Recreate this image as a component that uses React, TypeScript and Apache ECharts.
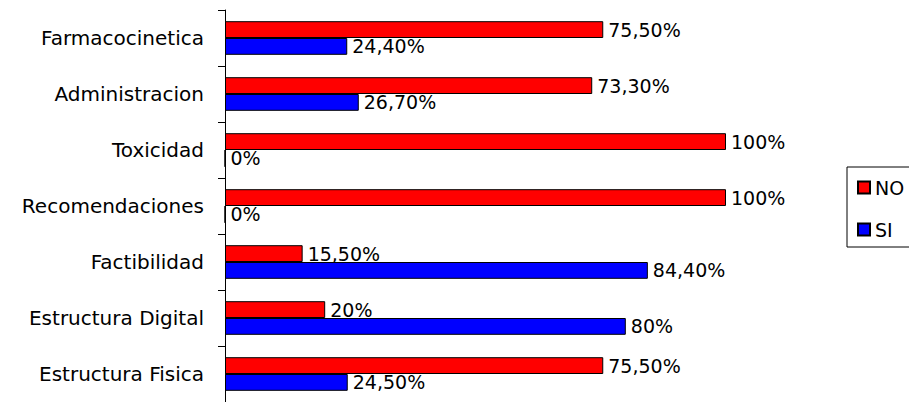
import React, { useEffect, useRef } from "react";
import * as echarts from "echarts";

const categories = [
  "Farmacocinetica",
  "Administracion",
  "Toxicidad",
  "Recomendaciones",
  "Factibilidad",
  "Estructura Digital",
  "Estructura Fisica",
];
const noValues = [75.5, 73.3, 100, 100, 15.5, 20, 75.5];
const siValues = [24.4, 26.7, 0, 0, 84.4, 80, 24.5];
const noLabels = ["75,50%", "73,30%", "100%", "100%", "15,50%", "20%", "75,50%"];
const siLabels = ["24,40%", "26,70%", "0%", "0%", "84,40%", "80%", "24,50%"];

const FONT = "DejaVu Sans";

export default function App() {
  const ref = useRef<HTMLDivElement>(null);
  useEffect(() => {
    if (!ref.current) return;
    const chart = echarts.init(ref.current, undefined, { renderer: "svg" });
    const labelStyle = {
      show: true,
      position: "right" as const,
      distance: 5,
      color: "#000",
      fontFamily: FONT,
      fontSize: 19,
    };
    chart.setOption({
      animation: false,
      backgroundColor: "#fff",
      grid: { left: 225, top: 10, width: 501, height: 394, containLabel: false },
      legend: {
        orient: "vertical",
        left: 847,
        top: 167,
        data: ["NO", "SI"],
        itemWidth: 12,
        itemHeight: 12,
        itemGap: 23,
        padding: [11, 40, 8, 10],
        borderColor: "#000",
        borderWidth: 1,
        icon: "rect",
        textStyle: { color: "#000", fontFamily: FONT, fontSize: 19 },
      },
      xAxis: {
        type: "value",
        min: 0,
        max: 100,
        show: false,
      },
      yAxis: {
        type: "category",
        inverse: true,
        data: categories,
        axisLine: { show: true, lineStyle: { color: "#000", width: 1 } },
        axisTick: { show: true, length: 7, lineStyle: { color: "#000" } },
        axisLabel: {
          color: "#000",
          fontFamily: FONT,
          fontSize: 20,
          margin: 21,
        },
        splitLine: { show: false },
      },
      series: [
        {
          name: "NO",
          type: "bar",
          data: noValues,
          barGap: "0%",
          barCategoryGap: "40%",
          itemStyle: { color: "#FF0000", borderColor: "#000", borderWidth: 1 },
          label: { ...labelStyle, formatter: (p: any) => noLabels[p.dataIndex] },
        },
        {
          name: "SI",
          type: "bar",
          data: siValues,
          barGap: "0%",
          barCategoryGap: "40%",
          itemStyle: { color: "#0000FF", borderColor: "#000", borderWidth: 1 },
          label: { ...labelStyle, formatter: (p: any) => siLabels[p.dataIndex] },
        },
      ],
    });
    return () => chart.dispose();
  }, []);
  return (
    <div
      ref={ref}
      style={{ position: "fixed", left: 0, top: 0, width: 909, height: 402, background: "#fff" }}
    />
  );
}
